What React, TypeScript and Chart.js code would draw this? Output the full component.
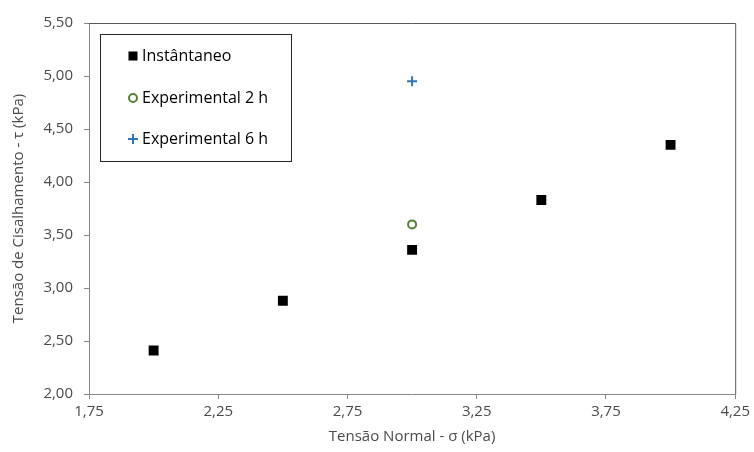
import React, { useEffect, useRef } from "react";
import { Chart, registerables } from "chart.js";

Chart.register(...registerables);

const instXs = [2.0, 2.5, 3.0, 3.5, 4.0];
const instYs = [2.41, 2.88, 3.36, 3.83, 4.35];
const exp2Xs = [3.0];
const exp2Ys = [3.6];
const exp6Xs = [3.0];
const exp6Ys = [4.95];
const xTicks = [1.75, 2.25, 2.75, 3.25, 3.75, 4.25];
const yTicks = [2.0, 2.5, 3.0, 3.5, 4.0, 4.5, 5.0, 5.5];
const seriesLabels = ["Instântaneo", "Experimental 2 h", "Experimental 6 h"];

const FONT = "'Open Sans', sans-serif";
const TEXT = "#4a4a4a";
const fmt = (v: number) => v.toFixed(2).replace(".", ",");
const toPts = (xs: number[], ys: number[]) => xs.map((x, i) => ({ x, y: ys[i] }));

const boxAndLegend = {
  id: "boxAndLegend",
  afterDatasetsDraw(chart: any) {
    const { ctx, chartArea } = chart;
    ctx.save();
    ctx.strokeStyle = "#595959";
    ctx.lineWidth = 1;
    ctx.beginPath();
    ctx.moveTo(chartArea.left, chartArea.top + 0.5);
    ctx.lineTo(chartArea.right + 0.5, chartArea.top + 0.5);
    ctx.lineTo(chartArea.right + 0.5, chartArea.bottom);
    ctx.stroke();

    const bx = chartArea.left + 11;
    const by = chartArea.top + 11;
    const bw = 191;
    const bh = 127;
    ctx.fillStyle = "#ffffff";
    ctx.fillRect(bx, by, bw, bh);
    ctx.strokeStyle = "#262626";
    ctx.strokeRect(bx + 0.5, by + 0.5, bw, bh);

    const rowY = [by + 22, by + 64, by + 105];
    chart.data.datasets.forEach((ds: any, i: number) => {
      const mx = bx + 33;
      const my = rowY[i];
      ctx.save();
      ctx.fillStyle = ds.pointBackgroundColor;
      ctx.strokeStyle = ds.pointBorderColor;
      ctx.lineWidth = ds.pointBorderWidth;
      if (ds.pointStyle === "rect") {
        ctx.fillRect(mx - 4.5, my - 4.5, 9, 9);
      } else if (ds.pointStyle === "circle") {
        ctx.beginPath();
        ctx.arc(mx, my, 4, 0, Math.PI * 2);
        ctx.fill();
        ctx.stroke();
      } else {
        ctx.beginPath();
        ctx.moveTo(mx - 5, my);
        ctx.lineTo(mx + 5, my);
        ctx.moveTo(mx, my - 5);
        ctx.lineTo(mx, my + 5);
        ctx.stroke();
      }
      ctx.restore();
      ctx.fillStyle = "#000000";
      ctx.font = `16px ${FONT}`;
      ctx.textBaseline = "middle";
      ctx.textAlign = "left";
      ctx.fillText(ds.label, mx + 9, my);
    });
    ctx.restore();
  },
};

export default function App() {
  const ref = useRef<HTMLCanvasElement | null>(null);
  useEffect(() => {
    document.body.style.margin = "0";
    const chart = new Chart(ref.current!, {
      type: "scatter",
      data: {
        datasets: [
          {
            label: seriesLabels[0],
            data: toPts(instXs, instYs),
            pointStyle: "rect",
            pointRadius: 7,
            pointHoverRadius: 7,
            pointBackgroundColor: "#000000",
            pointBorderColor: "#000000",
            pointBorderWidth: 0,
          },
          {
            label: seriesLabels[1],
            data: toPts(exp2Xs, exp2Ys),
            pointStyle: "circle",
            pointRadius: 4,
            pointHoverRadius: 4,
            pointBackgroundColor: "#ffffff",
            pointBorderColor: "#548235",
            pointBorderWidth: 2,
          },
          {
            label: seriesLabels[2],
            data: toPts(exp6Xs, exp6Ys),
            pointStyle: "cross",
            pointRadius: 5,
            pointHoverRadius: 5,
            pointBackgroundColor: "#2E75B6",
            pointBorderColor: "#2E75B6",
            pointBorderWidth: 2,
          },
        ] as any,
      },
      plugins: [boxAndLegend],
      options: {
        animation: false,
        responsive: false,
        maintainAspectRatio: false,
        layout: { padding: { top: 23, right: 17, left: 0, bottom: 0 } },
        plugins: { legend: { display: false }, tooltip: { enabled: false } },
        scales: {
          x: {
            type: "linear",
            min: 1.75,
            max: 4.25,
            afterBuildTicks: (s: any) => {
              s.ticks = xTicks.map((v) => ({ value: v }));
            },
            afterFit: (s: any) => {
              s.height = 58;
            },
            grid: { display: true, drawOnChartArea: false, drawTicks: true, tickLength: 5, color: "#868686" },
            border: { display: true, color: "#868686" },
            ticks: {
              color: TEXT,
              font: { family: FONT, size: 15 },
              padding: 4,
              maxRotation: 0,
              autoSkip: false,
              callback: (v: any) => fmt(Number(v)),
            },
            title: {
              display: true,
              text: "Tensão Normal - σ (kPa)",
              color: TEXT,
              font: { family: FONT, size: 15 },
              padding: { top: 6, bottom: 6 },
            },
          },
          y: {
            type: "linear",
            min: 2,
            max: 5.5,
            afterBuildTicks: (s: any) => {
              s.ticks = yTicks.map((v) => ({ value: v }));
            },
            afterFit: (s: any) => {
              s.width = 89;
            },
            grid: { display: true, drawOnChartArea: false, drawTicks: true, tickLength: 5, color: "#868686" },
            border: { display: true, color: "#868686" },
            ticks: {
              color: TEXT,
              font: { family: FONT, size: 15 },
              padding: 11,
              autoSkip: false,
              callback: (v: any) => fmt(Number(v)),
            },
            title: {
              display: true,
              text: "Tensão de Cisalhamento - τ (kPa)",
              color: TEXT,
              font: { family: FONT, size: 15 },
              padding: { top: 10, bottom: 0 },
            },
          },
        },
      },
    });
    return () => chart.destroy();
  }, []);
  return (
    <div style={{ position: "relative", width: 754, height: 452 }}>
      <canvas ref={ref} width={754} height={452} style={{ display: "block", width: 754, height: 452 }} />
    </div>
  );
}
